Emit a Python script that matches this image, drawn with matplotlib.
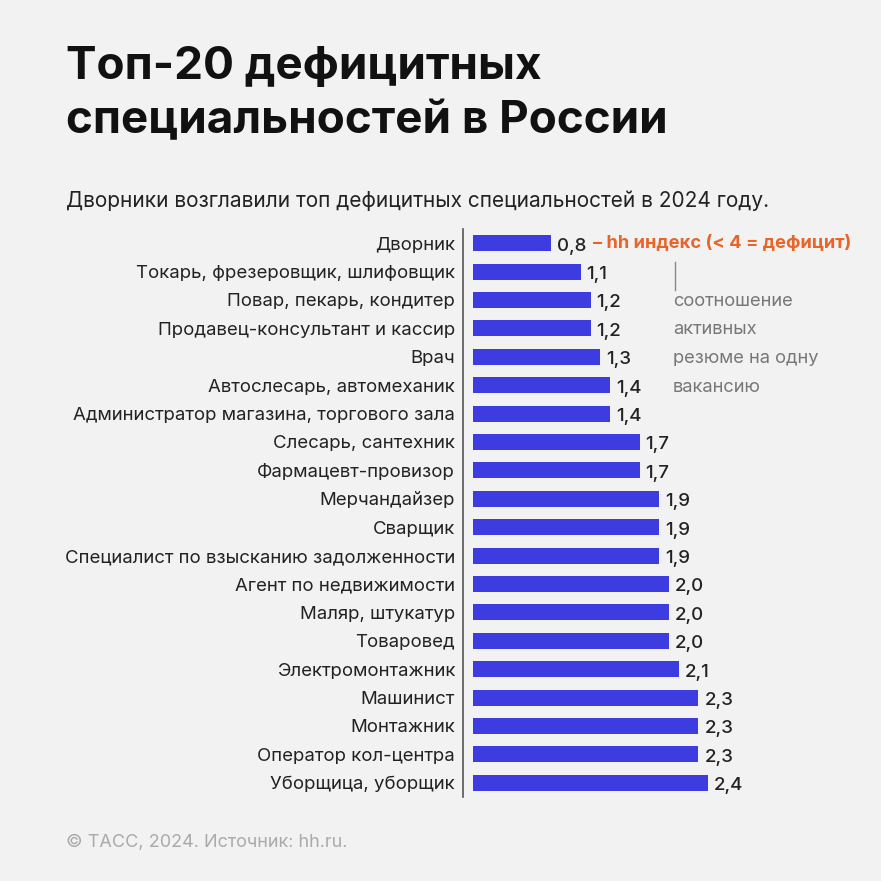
import matplotlib.pyplot as plt

plt.rcParams['font.family'] = ['Inter', 'DejaVu Sans']

# data
jobs = [
    'Дворник', 'Токарь, фрезеровщик, шлифовщик', 'Повар, пекарь, кондитер',
    'Продавец-консультант и кассир', 'Врач', 'Автослесарь, автомеханик',
    'Администратор магазина, торгового зала', 'Слесарь, сантехник',
    'Фармацевт-провизор', 'Мерчандайзер', 'Сварщик',
    'Специалист по взысканию задолженности', 'Агент по недвижимости',
    'Маляр, штукатур', 'Товаровед', 'Электромонтажник', 'Машинист',
    'Монтажник', 'Оператор кол-центра', 'Уборщица, уборщик',
]
hh_index = [0.8, 1.1, 1.2, 1.2, 1.3, 1.4, 1.4, 1.7, 1.7, 1.9,
            1.9, 1.9, 2.0, 2.0, 2.0, 2.1, 2.3, 2.3, 2.3, 2.4]
note_lines = ['соотношение', 'активных', 'резюме на одну', 'вакансию']

W = H = 881
bg = '#f2f2f2'
bar_color = '#3c3ce0'

fig = plt.figure(figsize=(8.81, 8.81), dpi=100, facecolor=bg)

# axes placed in pixel coordinates of the reference
left, right, top, bottom = 473, 860, 229, 797
ax = fig.add_axes([left / W, 1 - bottom / H, (right - left) / W, (bottom - top) / H])
ax.set_facecolor(bg)

y = list(range(len(jobs)))
ax.barh(y, hh_index, height=0.57, color=bar_color)
ax.set_ylim(len(jobs) - 0.5, -0.5)
ax.set_xlim(0, (right - left) / 98)

ax.set_yticks(y)
ax.set_yticklabels(jobs)
ax.tick_params(axis='y', length=0, pad=5.5, labelsize=13.4, labelcolor='#222222')
for lbl in ax.get_yticklabels():
    lbl.set_fontweight('medium')
ax.set_xticks([])
for s in ['top', 'right', 'bottom']:
    ax.spines[s].set_visible(False)
ax.spines['left'].set_position(('outward', 7.5))
ax.spines['left'].set_color('#555555')
ax.spines['left'].set_linewidth(1.2)

for i, v in enumerate(hh_index):
    ax.text(v + 0.06, i + 0.1, f'{v:.1f}'.replace('.', ','), va='center',
            ha='left', fontsize=13.5, color='#222222', fontweight='medium')

# orange note next to the first value
ax.text(hh_index[0] + 0.42, 0.0, '– hh индекс (< 4 = дефицит)', va='center',
        ha='left', fontsize=13.2, fontweight='bold', color='#e8652a')

# grey explanation
fig.add_artist(plt.Line2D([675 / W, 675 / W], [1 - 262 / H, 1 - 290 / H],
                          color='#888888', lw=1))
for k, line in enumerate(note_lines):
    fig.text(673 / W, 1 - (301 + k * 28.7) / H, line, fontsize=13.2,
             color='#777777', va='center', ha='left')

fig.text(66 / W, 1 - 94 / H, 'Топ-20 дефицитных\nспециальностей в России',
         fontsize=33, fontweight='bold', color='#111111', va='center',
         ha='left', linespacing=1.38)
fig.text(66 / W, 1 - 201 / H,
         'Дворники возглавили топ дефицитных специальностей в 2024 году.',
         fontsize=15, color='#222222', va='center', ha='left')
fig.text(66 / W, 1 - 842 / H, '© ТАСС, 2024. Источник: hh.ru.',
         fontsize=13, color='#aaaaaa', va='center', ha='left')

fig.savefig('out.png', dpi=100, facecolor=bg)
